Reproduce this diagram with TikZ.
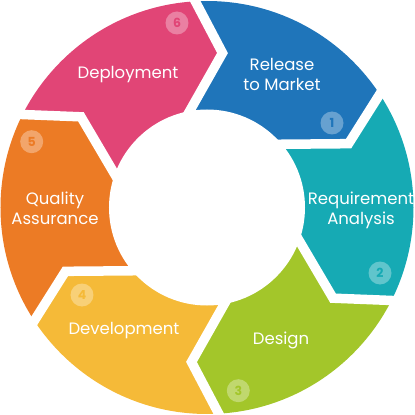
\documentclass[tikz,border=0pt]{standalone}
\usepackage{fontspec}
\setmainfont{Poppins}
\definecolor{cblue}{HTML}{1F75BA}
\definecolor{cteal}{HTML}{16AAB4}
\definecolor{cgreen}{HTML}{A3C62A}
\definecolor{cyellow}{HTML}{F5BA38}
\definecolor{corange}{HTML}{EC7B25}
\definecolor{cpink}{HTML}{E14576}
\begin{document}
\begin{tikzpicture}[x=1pt,y=1pt,
  lbl/.style={text=white, align=center, font=\fontsize{16.5}{20}\selectfont},
  numc/.style={circle, fill=white, fill opacity=0.32, text opacity=1, minimum size=23pt, inner sep=0pt, font=\fontsize{12.5}{12.5}\selectfont\bfseries}]
\useasboundingbox (-207,-207.5) rectangle (208,207.5);
\begin{scope}
  \clip (0,0) circle (206.5);
  \foreach \i/\col in {1/cblue,2/cteal,3/cgreen,4/cyellow,5/corange,6/cpink}{
    \pgfmathsetmacro\t{-60*(\i-1)}
    \pgfmathsetmacro\h{-60*\i}
    \fill[\col] (\t+95.37:219.06) -- (\t+84.27:155.28) -- (\t+102.71:93.18) -- (0,0)
      -- (\h+102.71:93.18) -- (\h+84.27:155.28) -- (\h+95.37:219.06)
      -- (\h+95.37:438) -- (\t+95.37:438) -- cycle;
  }
\end{scope}
\fill[white] (0,0) circle (98);
\foreach \a in {0,-60,-120,-180,-240,-300}{
  \draw[white, line width=9.5pt, line join=miter, miter limit=10]
    (\a+95.37:225) -- (\a+84.27:155.28) -- (\a+102.71:93.18);
}
\node[lbl] (t1) at (75,133.5) {Release\\to Market};
\node[lbl] (t2) at (154,-2.5) {Requirement\\Analysis};
\node[lbl] (t3) at (74,-133) {Design};
\node[lbl] (t4) at (-83,-123) {Development};
\node[lbl] (t5) at (-152,-0.5) {Quality\\Assurance};
\node[lbl] (t6) at (-79,132.5) {Deployment};
\node[numc, text=cblue] (n1) at (125,84.5) {1};
\node[numc, text=cteal] (n2) at (173,-65.5) {2};
\node[numc, text=cgreen] (n3) at (31.3,-183.2) {3};
\node[numc, text=cyellow] (n4) at (-125,-87.5) {4};
\node[numc, text=corange] (n5) at (-175.3,65.8) {5};
\node[numc, text=cpink] (n6) at (-30,184.5) {6};
\end{tikzpicture}
\end{document}
